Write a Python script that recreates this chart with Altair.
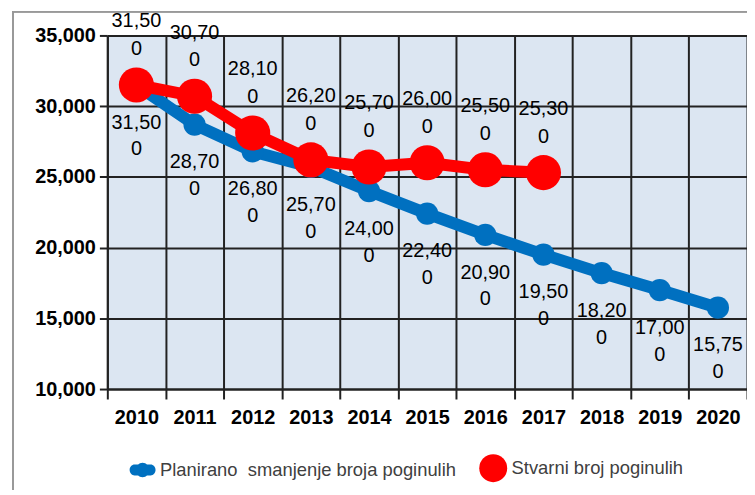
import altair as alt
import pandas as pd

years = [str(y) for y in range(2010, 2021)]
planned = [31500, 28700, 26800, 25700, 24000, 22400, 20900, 19500, 18200, 17000, 15750]
actual_years = [str(y) for y in range(2010, 2018)]
actual = [31500, 30700, 28100, 26200, 25700, 26000, 25500, 25300]
series_names = ["Planirano\u00a0 smanjenje broja poginulih", "Stvarni broj poginulih"]
y_ticks = [10000, 15000, 20000, 25000, 30000, 35000]

BLUE = "#0070C0"
RED = "#FF0000"
FONT = "Liberation Sans"


def split_label(v):
    s = f"{v:,}"
    return s[:-1] + "\n" + s[-1]


rows = []
for yr, v in zip(years, planned):
    rows.append({"year": yr, "value": v, "series": series_names[0], "label": split_label(v)})
for yr, v in zip(actual_years, actual):
    rows.append({"year": yr, "value": v, "series": series_names[1], "label": split_label(v)})
df = pd.DataFrame(rows)

x_enc = alt.X(
    "year:N",
    sort=years,
    scale=alt.Scale(domain=years, paddingInner=0, paddingOuter=0),
    axis=alt.Axis(
        title=None, labelAngle=0, tickBand="extent",
        labelFont=FONT, labelFontSize=20, labelFontWeight="bold", labelColor="black",
        labelPadding=9, tickSize=10, tickWidth=2, tickColor="#222",
        grid=True, gridColor="#222", gridWidth=2,
        domainColor="#222", domainWidth=2,
    ),
)
y_enc = alt.Y(
    "value:Q",
    scale=alt.Scale(domain=[10000, 35000], nice=False, zero=False),
    axis=alt.Axis(
        title=None, values=y_ticks, labelExpr="format(datum.value, ',')",
        labelFont=FONT, labelFontSize=20, labelFontWeight="bold", labelColor="black",
        labelPadding=4, tickSize=8, tickWidth=2, tickColor="#222",
        grid=True, gridColor="#222", gridWidth=2,
        domainColor="#222", domainWidth=2,
    ),
)

base = alt.Chart(df).encode(x=x_enc, y=y_enc)
planned_base = base.transform_filter(alt.datum.series == series_names[0])
actual_base = base.transform_filter(alt.datum.series == series_names[1])

blue_line = planned_base.mark_line(color=BLUE, strokeWidth=12, strokeCap="round", strokeJoin="round")
blue_pts = planned_base.mark_circle(color=BLUE, size=500, opacity=1)
red_line = actual_base.mark_line(color=RED, strokeWidth=12, strokeCap="round", strokeJoin="round")
red_pts = actual_base.mark_circle(color=RED, size=1250, opacity=1)

blue_lbl = planned_base.mark_text(
    font=FONT, fontSize=20, color="black", baseline="top", lineBreak="\n", lineHeight=27, dy=28
).encode(text="label:N")
red_lbl = actual_base.mark_text(
    font=FONT, fontSize=20, color="black", baseline="bottom", lineBreak="\n", lineHeight=28, dy=-54
).encode(text="label:N")

blue_path = ("M-0.62,-0.42 L0.62,-0.42 A0.38,0.42 0 0,1 0.62,0.42 L-0.62,0.42 A0.38,0.42 0 0,1 -0.62,-0.42 Z "
             "M0.52,0 A0.52,0.56 0 1,1 -0.52,0 A0.52,0.56 0 1,1 0.52,0 Z")

legend_layer = base.transform_filter("false").mark_point(filled=True, opacity=1).encode(
    color=alt.Color(
        "series:N",
        scale=alt.Scale(domain=series_names, range=[BLUE, RED]),
        legend=alt.Legend(
            title=None, orient="none", legendX=22, legendY=421, direction="horizontal",
            labelFont=FONT, labelFontSize=18.5, labelColor="#404040", labelOffset=4,
            labelLimit=500, columnPadding=22, symbolStrokeWidth=0, symbolOpacity=1,
        ),
    ),
    size=alt.Size("series:N", scale=alt.Scale(domain=series_names, range=[680, 790])),
    shape=alt.Shape("series:N", scale=alt.Scale(domain=series_names, range=[blue_path, "circle"])),
)

frame_v = alt.Chart(df).mark_rule(color="#999999", strokeWidth=1).encode(
    x=alt.value(-95), y=alt.value(-24), y2=alt.value(470)
)
frame_h = alt.Chart(df).mark_rule(color="#999999", strokeWidth=1).encode(
    x=alt.value(-95), x2=alt.value(660), y=alt.value(-24)
)

chart = alt.layer(
    blue_line, blue_pts, red_line, red_pts, blue_lbl, red_lbl, legend_layer, frame_v, frame_h
).properties(
    width=644, height=356,
    padding={"left": 100, "top": 26, "right": 0, "bottom": 100},
    autosize="none",
    background="white",
).configure_view(fill="#DCE6F2", stroke=None)

chart.save("out.html", embed_options={"renderer": "svg", "actions": False})
